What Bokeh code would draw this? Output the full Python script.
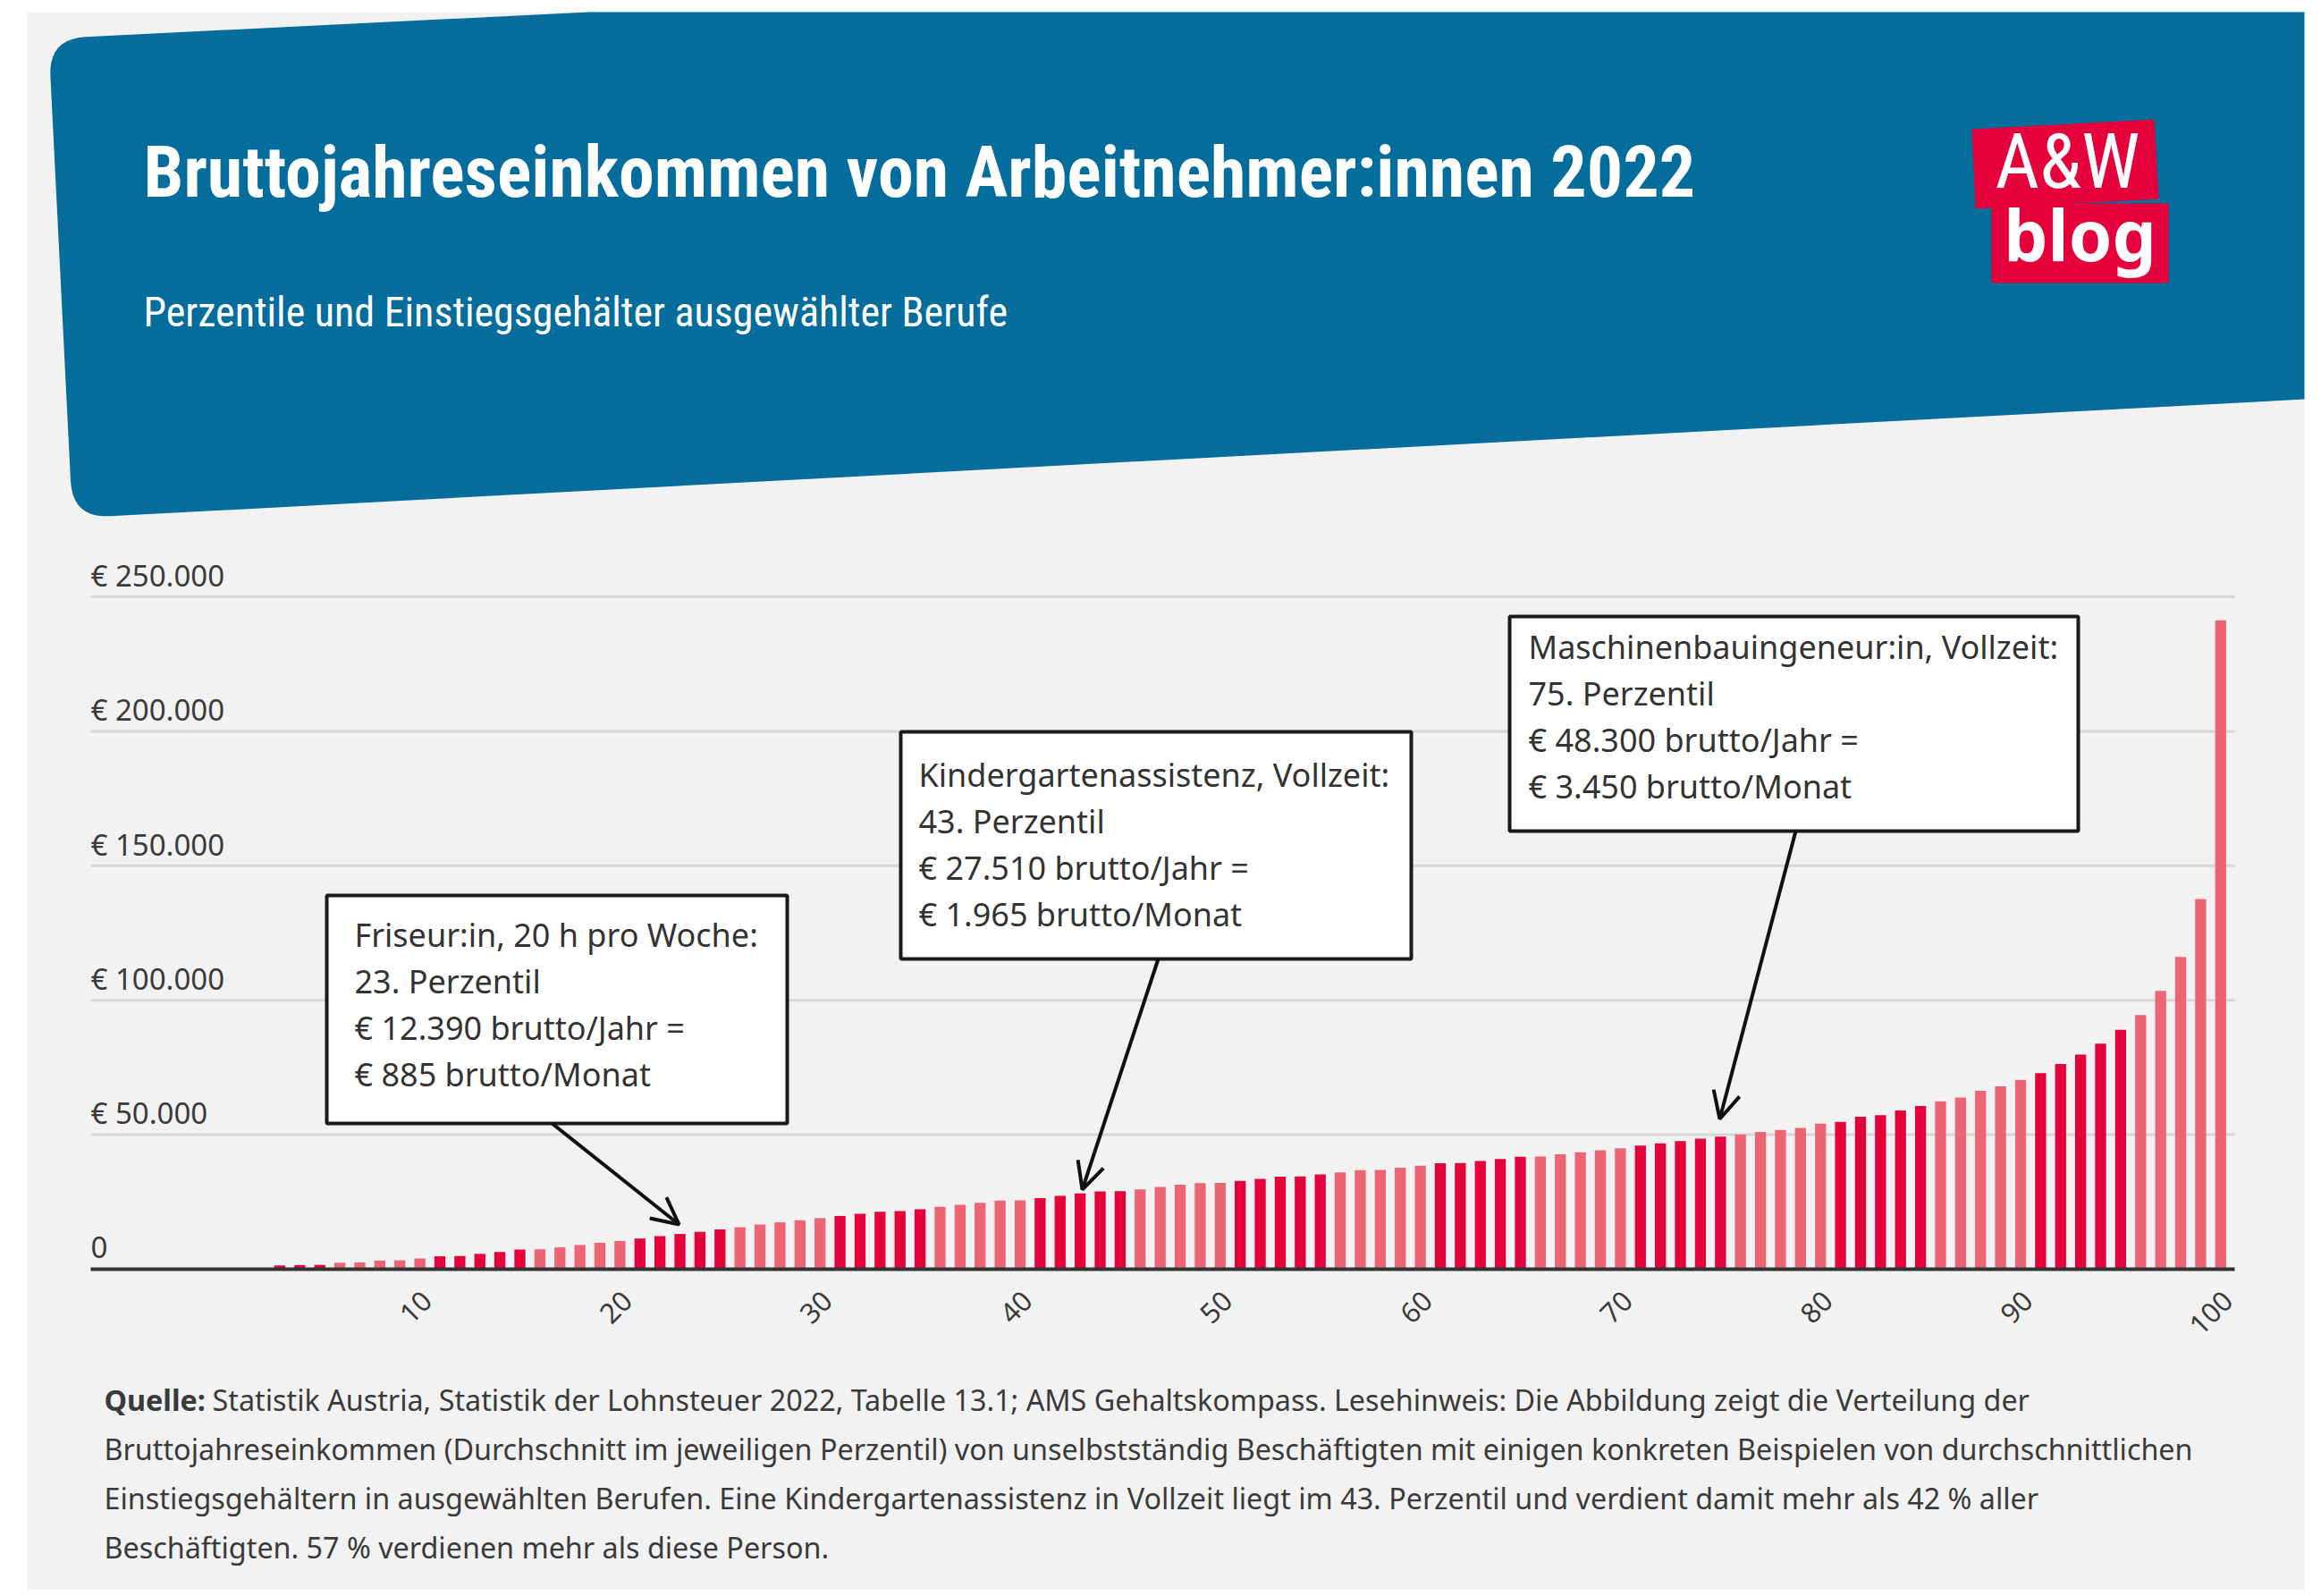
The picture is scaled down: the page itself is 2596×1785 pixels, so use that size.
import math
from bokeh.plotting import figure
from bokeh.models import Range1d, Arrow, OpenHead
from bokeh.core.properties import value
from bokeh.embed import file_html
from bokeh.resources import INLINE

# ---------------- data ----------------
percentiles = list(range(1, 101))
income = [100, 400, 1400, 1500, 1600, 2400, 2500, 3200, 3300, 4000,
          4800, 4900, 5700, 6400, 7300, 7400, 8100, 9000, 9800, 10500,
          11400, 12300, 13100, 13900, 14800, 15600, 16600, 17400, 18200, 19000,
          19800, 20600, 21400, 21600, 22300, 23200, 23900, 24700, 25500, 25600,
          26400, 27300, 28200, 28900, 29000, 29700, 30600, 31400, 32000, 32100,
          32800, 33600, 34400, 34500, 35200, 36000, 36800, 36900, 37700, 38500,
          39400, 39500, 40200, 41000, 41800, 41900, 42700, 43500, 44200, 45000,
          46000, 46800, 47600, 48500, 49300, 50100, 51000, 51800, 52500, 54100,
          54800, 56700, 57300, 59000, 60700, 62400, 63800, 66300, 68000, 70400,
          72900, 76300, 79800, 83900, 89000, 94500, 103500, 116100, 137600, 241300]
y_ticks = [0, 50000, 100000, 150000, 200000, 250000]
y_tick_labels = ["0", "€ 50.000", "€ 100.000", "€ 150.000", "€ 200.000", "€ 250.000"]
x_ticks = [10, 20, 30, 40, 50, 60, 70, 80, 90, 100]
x_tick_labels = ["10", "20", "30", "40", "50", "60", "70", "80", "90", "100"]

title_text = "Bruttojahreseinkommen von Arbeitnehmer:innen 2022"
subtitle_text = "Perzentile und Einstiegsgehälter ausgewählter Berufe"
callout_lines = [
    ["Friseur:in, 20 h pro Woche:", "23. Perzentil", "€ 12.390 brutto/Jahr =", "€ 885 brutto/Monat"],
    ["Kindergartenassistenz, Vollzeit:", "43. Perzentil", "€ 27.510 brutto/Jahr =", "€ 1.965 brutto/Monat"],
    ["Maschinenbauingeneur:in, Vollzeit:", "75. Perzentil", "€ 48.300 brutto/Jahr =", "€ 3.450 brutto/Monat"],
]
footer_bold = "Quelle:"
footer_first = ("Statistik Austria, Statistik der Lohnsteuer 2022, Tabelle 13.1; AMS Gehaltskompass. "
                "Lesehinweis: Die Abbildung zeigt die Verteilung der")
footer_rest = [
    "Bruttojahreseinkommen (Durchschnitt im jeweiligen Perzentil) von unselbstständig Beschäftigten mit einigen konkreten Beispielen von durchschnittlichen",
    "Einstiegsgehältern in ausgewählten Berufen. Eine Kindergartenassistenz in Vollzeit liegt im 43. Perzentil und verdient damit mehr als 42 % aller",
    "Beschäftigten. 57 % verdienen mehr als diese Person.",
]

# ---------------- layout (page pixel coordinates) ----------------
W, H = 2588, 1778
OX, OY = 0, 0
PCT0_PX, PCT_STEP = 245.3, 22.38            # pixel of percentile 0, pixels per percentile
EUR0_PX, PX_PER_EUR = 1419.0, 3.008 / 1000  # pixel of value 0, pixels per euro
GRID_L_PX, GRID_R_PX = 101, 2499
BASE_SHIFT = 0.4  # empirical baseline correction (fraction of font size)

DARK_RED = "#e4003a"
LIGHT_RED = "#ed6474"
BLUE = "#046d9b"
PANEL = "#f2f2f2"
TXT = "#3a3a3a"
FONT = "Noto Sans"
COND = "Roboto Condensed, Open Sans Condensed, DejaVu Sans Condensed, sans-serif"


def by_(baseline, size):
    return baseline - BASE_SHIFT * size


p = figure(width=W, height=H, x_range=Range1d(OX, OX + W), y_range=Range1d(OY + H, OY),
           x_axis_type=None, y_axis_type=None, toolbar_location=None, output_backend="svg",
           min_border=0, outline_line_color=None,
           background_fill_color="white", border_fill_color="white")
p.extra_x_ranges = {"pct": Range1d((OX - PCT0_PX) / PCT_STEP, (OX + W - PCT0_PX) / PCT_STEP)}
p.extra_y_ranges = {"eur": Range1d((EUR0_PX - (OY + H)) / PX_PER_EUR, (EUR0_PX - OY) / PX_PER_EUR)}

# panel background
p.quad(left=[30], right=[2577], top=[13], bottom=[1800], fill_color=PANEL, line_color=None)


def rounded_poly(pts, radii, n=10):
    xs, ys = [], []
    N = len(pts)
    for i in range(N):
        x, y = pts[i]
        r = radii[i]
        if r == 0:
            xs.append(x); ys.append(y); continue
        px, py = pts[i - 1]
        nx, ny = pts[(i + 1) % N]
        d1 = math.hypot(px - x, py - y)
        d2 = math.hypot(nx - x, ny - y)
        ax, ay = x + (px - x) * r / d1, y + (py - y) * r / d1
        bx, by = x + (nx - x) * r / d2, y + (ny - y) * r / d2
        for k in range(n + 1):
            t = k / n
            xs.append((1 - t) ** 2 * ax + 2 * (1 - t) * t * x + t ** 2 * bx)
            ys.append((1 - t) ** 2 * ay + 2 * (1 - t) * t * y + t ** 2 * by)
    return xs, ys


bx, by = rounded_poly([(659, 13), (2577, 13), (2577, 446), (80.6, 579.1), (53.8, 42.8)],
                      [0, 0, 0, 42, 42])
p.patch(bx, by, fill_color=BLUE, line_color=None)

# title / subtitle
p.text(x=[160], y=[by_(224, 80)], text=[title_text], text_font=value(COND), text_font_style="bold",
       text_font_size="80px", text_color="white", text_baseline="alphabetic")
p.text(x=[160], y=[by_(367, 46)], text=[subtitle_text], text_font=value(COND),
       text_font_size="46px", text_color="white", text_baseline="alphabetic")

# logo
p.quad(left=[2227], right=[2425], top=[227], bottom=[316], fill_color=DARK_RED, line_color=None)
p.patch([2205, 2409, 2414, 2209], [144, 133, 222, 233], fill_color=DARK_RED, line_color=None)
p.text(x=[2312], y=[by_(214, 86)], text=["A&W"], text_font=value(COND), text_font_size="86px",
       text_color="white", text_align="center", text_baseline="alphabetic")
p.text(x=[2326], y=[by_(293, 78)], text=["blog"], text_font=value(FONT), text_font_style="bold",
       text_font_size="78px", text_color="white", text_align="center", text_baseline="alphabetic")

# chart
gx0 = (GRID_L_PX - PCT0_PX) / PCT_STEP
gx1 = (GRID_R_PX - PCT0_PX) / PCT_STEP
grid_vals = y_ticks[1:]
p.segment(x0=[gx0] * len(grid_vals), x1=[gx1] * len(grid_vals), y0=grid_vals, y1=grid_vals,
          line_color="#d6d6d6", line_width=3, x_range_name="pct", y_range_name="eur")

colors = [DARK_RED if ((pc - 1) // 5) % 2 == 0 else LIGHT_RED for pc in percentiles]
p.vbar(x=percentiles, top=income, bottom=0, width=0.55, fill_color=colors, line_color=None,
       x_range_name="pct", y_range_name="eur")

p.segment(x0=[gx0], x1=[gx1], y0=[0], y1=[0], line_color="#333333", line_width=4,
          x_range_name="pct", y_range_name="eur")

p.text(x=[gx0] * len(y_ticks), y=y_ticks, text=y_tick_labels, text_font=value(FONT),
       text_font_size="33px", text_color=TXT, text_baseline="alphabetic",
       y_offset=-11 - BASE_SHIFT * 33, x_range_name="pct", y_range_name="eur")

p.text(x=x_ticks, y=[0] * len(x_ticks), text=x_tick_labels, text_font=value(FONT),
       text_font_size="31px", text_color=TXT, angle=math.pi / 4, text_align="right",
       text_baseline="middle", x_offset=8, y_offset=30, x_range_name="pct", y_range_name="eur")

# callout boxes
boxes = [(365, 880, 1001, 1256), (1007, 1578, 818, 1072), (1688, 2324, 689, 929)]
text_left = [396, 1027, 1709]
first_baseline = [1059, 880, 737]
line_step = 52
arrows = [((617, 1256), (759, 1369)), ((1295, 1072), (1210, 1330)), ((2008, 929), (1923, 1251))]
for (l, r, t, b), tx, fb, lines, (s, e) in zip(boxes, text_left, first_baseline, callout_lines, arrows):
    p.add_layout(Arrow(end=OpenHead(size=30, line_width=4, line_color="#111111"),
                       x_start=s[0], y_start=s[1], x_end=e[0], y_end=e[1],
                       line_width=4, line_color="#111111"))
    p.quad(left=[l], right=[r], top=[t], bottom=[b], fill_color="white",
           line_color="#1a1a1a", line_width=4)
    p.text(x=[tx] * len(lines), y=[by_(fb + i * line_step, 36) for i in range(len(lines))],
           text=lines, text_font=value(FONT), text_font_size="36px", text_color="#333333",
           text_baseline="alphabetic")

# footer
FS = 32.3
p.text(x=[116], y=[by_(1577, FS)], text=[footer_bold], text_font=value(FONT), text_font_style="bold",
       text_font_size=f"{FS}px", text_color=TXT, text_baseline="alphabetic")
p.text(x=[237], y=[by_(1577, FS)], text=[footer_first], text_font=value(FONT),
       text_font_size=f"{FS}px", text_color=TXT, text_baseline="alphabetic")
p.text(x=[116] * 3, y=[by_(v, FS) for v in (1632, 1687, 1742)], text=footer_rest,
       text_font=value(FONT), text_font_size=f"{FS}px", text_color=TXT, text_baseline="alphabetic")

open("out.html", "w").write(file_html(p, INLINE))
